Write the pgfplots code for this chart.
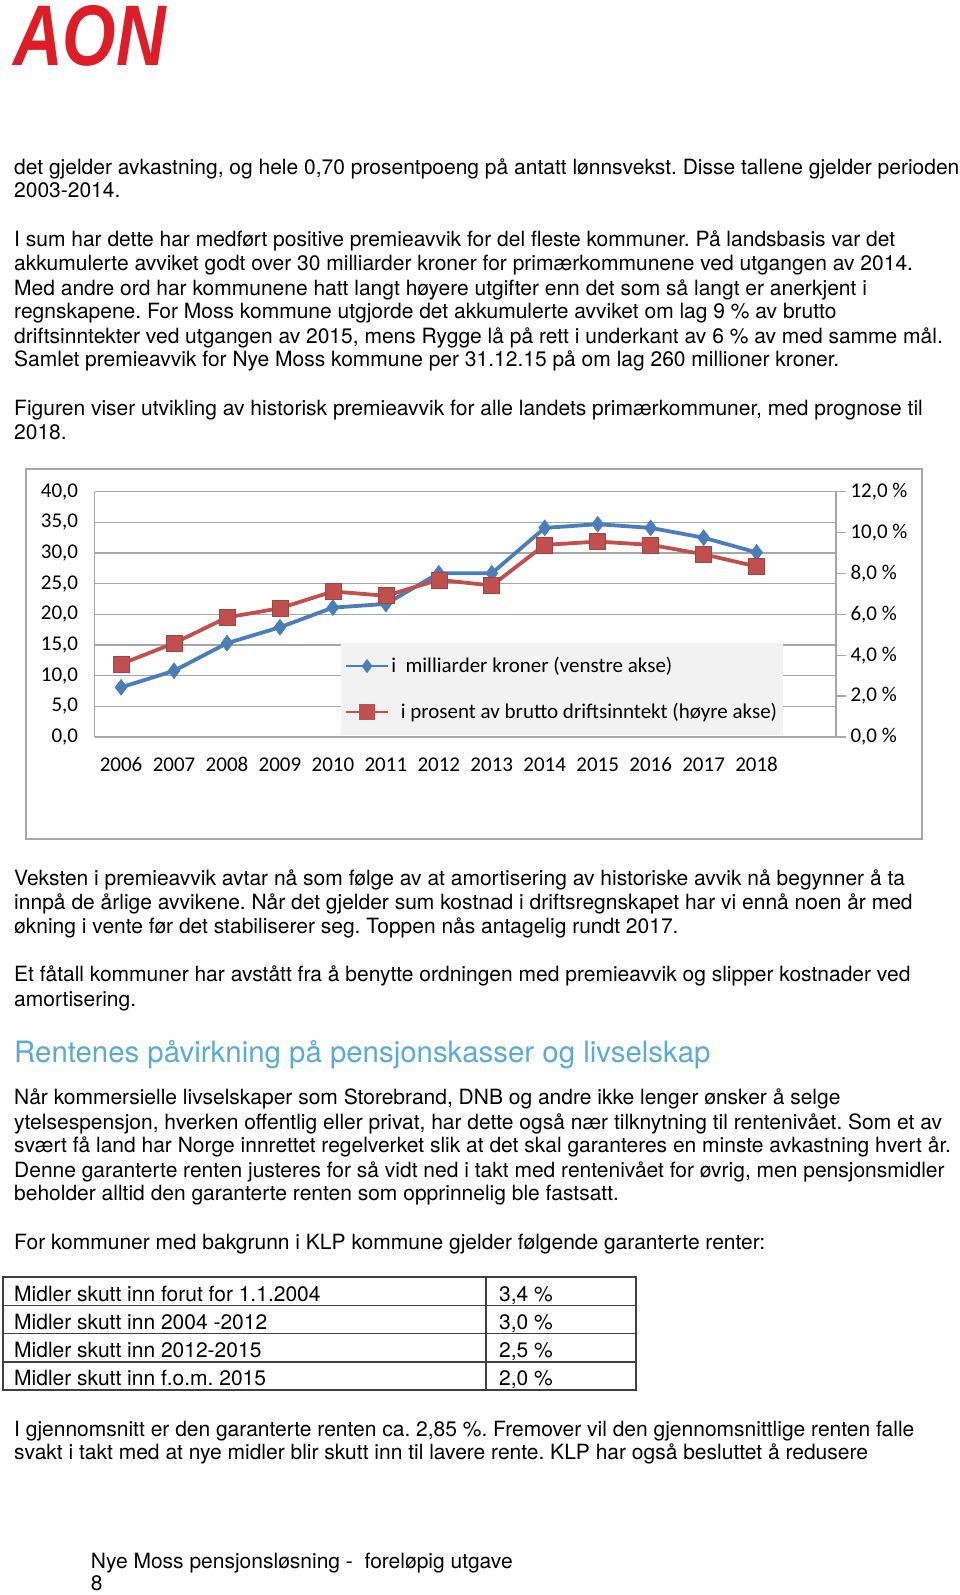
\documentclass[border=0pt]{standalone}
\usepackage{fontspec}
\setmainfont{TeX Gyre Heros}
\newfontfamily\carlito{Carlito}
\newfontfamily\liblogo{Liberation Sans}
\usepackage{pgfplots}
\pgfplotsset{compat=1.18}
\frenchspacing
\definecolor{serblue}{RGB}{74,126,187}
\definecolor{serred}{RGB}{192,80,77}
\definecolor{gridgray}{RGB}{166,166,166}
\definecolor{legfill}{RGB}{242,242,242}
\definecolor{headblue}{RGB}{91,170,214}
\definecolor{aonred}{RGB}{222,30,38}
\newcommand{\bodyfont}{\fontsize{21bp}{24bp}\selectfont}
\newcommand{\chartfont}{\fontsize{21bp}{24bp}\selectfont\carlito}
\newcommand{\tl}[2]{\node[anchor=base west,inner sep=0,font=\bodyfont] at (14bp,-#1bp) {#2};}
\begin{document}
\begin{tikzpicture}
\fill[white] (0,0) rectangle (960bp,-1595bp);
\path[use as bounding box] (0,0) rectangle (960bp,-1595bp);
% logo
\node[anchor=base west,inner sep=0,text=aonred,font=\fontsize{86bp}{86bp}\selectfont\liblogo\bfseries\itshape,xscale=0.8] at (13bp,-65bp) {AON};
% text
\tl{174.3}{det gjelder avkastning, og hele 0,70 prosentpoeng på antatt lønnsvekst. Disse tallene gjelder perioden}
\tl{197.7}{2003-2014.}
\tl{246.5}{I sum har dette har medført positive premieavvik for del fleste kommuner. På landsbasis var det}
\tl{270.9}{akkumulerte avviket godt over 30 milliarder kroner for primærkommunene ved utgangen av 2014.}
\tl{295.3}{Med andre ord har kommunene hatt langt høyere utgifter enn det som så langt er anerkjent i}
\tl{318.7}{regnskapene. For Moss kommune utgjorde det akkumulerte avviket om lag 9 \% av brutto}
\tl{343.1}{driftsinntekter ved utgangen av 2015, mens Rygge lå på rett i underkant av 6 \% av med samme mål.}
\tl{366.5}{Samlet premieavvik for Nye Moss kommune per 31.12.15 på om lag 260 millioner kroner.}
\tl{415.3}{Figuren viser utvikling av historisk premieavvik for alle landets primærkommuner, med prognose til}
\tl{439.7}{2018.}
\tl{885.1}{Veksten i premieavvik avtar nå som følge av at amortisering av historiske avvik nå begynner å ta}
\tl{909.5}{innpå de årlige avvikene. Når det gjelder sum kostnad i driftsregnskapet har vi ennå noen år med}
\tl{933.9}{økning i vente før det stabiliserer seg. Toppen nås antagelig rundt 2017.}
\tl{981.7}{Et fåtall kommuner har avstått fra å benytte ordningen med premieavvik og slipper kostnader ved}
\tl{1006.1}{amortisering.}
\node[anchor=base west,inner sep=0,text=headblue,font=\fontsize{29.4bp}{32bp}\selectfont] at (14bp,-1062bp) {Rentenes påvirkning på pensjonskasser og livselskap};
\tl{1104.8}{Når kommersielle livselskaper som Storebrand, DNB og andre ikke lenger ønsker å selge}
\tl{1129.2}{ytelsespensjon, hverken offentlig eller privat, har dette også nær tilknytning til rentenivået. Som et av}
\tl{1152.5}{svært få land har Norge innrettet regelverket slik at det skal garanteres en minste avkastning hvert år.}
\tl{1177}{Denne garanterte renten justeres for så vidt ned i takt med rentenivået for øvrig, men pensjonsmidler}
\tl{1200.4}{beholder alltid den garanterte renten som opprinnelig ble fastsatt.}
\tl{1249.2}{For kommuner med bakgrunn i KLP kommune gjelder følgende garanterte renter:}
% table
\draw[line width=1.5bp,black!75] (3bp,-1277bp) rectangle (636bp,-1390bp);
\draw[line width=1.5bp,black!75] (486bp,-1277bp) -- (486bp,-1390bp);
\foreach \yy in {1305.25,1333.5,1361.75} {\draw[line width=1.5bp,black!75] (3bp,-\yy bp) -- (636bp,-\yy bp);}
\tl{1301}{Midler skutt inn forut for 1.1.2004}
\tl{1329}{Midler skutt inn 2004 -2012}
\tl{1357}{Midler skutt inn 2012-2015}
\tl{1385}{Midler skutt inn f.o.m. 2015}
\node[anchor=base west,inner sep=0,font=\bodyfont] at (499bp,-1301bp) {3,4 \%};
\node[anchor=base west,inner sep=0,font=\bodyfont] at (499bp,-1329bp) {3,0 \%};
\node[anchor=base west,inner sep=0,font=\bodyfont] at (499bp,-1357bp) {2,5 \%};
\node[anchor=base west,inner sep=0,font=\bodyfont] at (499bp,-1385bp) {2,0 \%};
\tl{1436.3}{I gjennomsnitt er den garanterte renten ca. 2,85 \%. Fremover vil den gjennomsnittlige renten falle}
\tl{1459.7}{svakt i takt med at nye midler blir skutt inn til lavere rente. KLP har også besluttet å redusere}
\node[anchor=base west,inner sep=0,font=\bodyfont] at (90.7bp,-1568bp) {Nye Moss pensjonsløsning -\ \ foreløpig utgave};
\node[anchor=base west,inner sep=0,font=\bodyfont] at (90.7bp,-1590bp) {8};
% chart border
\draw[line width=2bp,gridgray] (26bp,-469bp) rectangle (922bp,-839bp);
% left axis
\begin{axis}[at={(94.6bp,-737bp)},anchor=south west,scale only axis,
  width=741.4bp,height=245.3bp,
  xmin=2005.5,xmax=2019.5,ymin=0,ymax=40,
  xtick={2006,2007,2008,2009,2010,2011,2012,2013,2014,2015,2016,2017,2018},
  xticklabels={2006,2007,2008,2009,2010,2011,2012,2013,2014,2015,2016,2017,2018},
  ytick={0,5,10,15,20,25,30,35,40},
  yticklabels={{0,0},{5,0},{10,0},{15,0},{20,0},{25,0},{30,0},{35,0},{40,0}},
  /pgf/number format/assume math mode=true,
  axis x line*=bottom, axis y line*=left,
  axis line style={draw=gridgray,line width=1.3bp,-},
  ymajorgrids, grid style={draw=gridgray,line width=1.3bp},
  major tick length=0pt,
  tick label style={font=\chartfont},
  xticklabel style={yshift=-17bp},
  yticklabel style={xshift=-13bp},
  clip=false]
\addplot[serblue,line width=3.8bp,mark=diamond*,mark size=8bp,mark options={solid,fill=serblue,draw=serblue,line width=0.5bp}]
 coordinates {(2006,8.1)(2007,10.8)(2008,15.3)(2009,17.9)(2010,21.1)(2011,21.7)(2012,26.7)(2013,26.7)(2014,34.1)(2015,34.7)(2016,34.1)(2017,32.5)(2018,30.1)};
\end{axis}
% right axis
\begin{axis}[at={(94.6bp,-737bp)},anchor=south west,scale only axis,
  width=741.4bp,height=245.3bp,
  xmin=2005.5,xmax=2019.5,ymin=0,ymax=12,
  axis x line=none, axis y line*=right,
  axis line style={draw=gridgray,line width=1.3bp,-},
  ytick={0,2,4,6,8,10,12},
  yticklabels={{0,0 \%},{2,0 \%},{4,0 \%},{6,0 \%},{8,0 \%},{10,0 \%},{12,0 \%}},
  /pgf/number format/assume math mode=true,
  tick align=outside, major tick length=10bp,
  major tick style={draw=gridgray,line width=1.3bp},
  tick label style={font=\chartfont},
  yticklabel style={anchor=west,xshift=1bp},
  legend image code/.code={\draw[mark repeat=2,mark phase=2,#1] plot coordinates {(0bp,0bp) (21bp,0bp) (42bp,0bp)};},
  legend cell align=left,
  legend style={at={(0.3317,0.006)},anchor=south west,fill=legfill,draw=none,
    font=\chartfont,inner xsep=4bp,inner ysep=13bp,row sep=25bp,
    nodes={inner sep=2bp}},
  clip=false]
\addlegendimage{serblue,line width=2.6bp,mark=diamond*,mark size=5bp,mark options={solid,fill=serblue}}
\addlegendentry{i\ \ milliarder kroner (venstre akse)}
\addlegendimage{serred,line width=2.6bp,mark=square*,mark size=6.5bp,mark options={solid,fill=serred}}
\addlegendentry{\ \ i prosent av brutto driftsinntekt (høyre akse)}
\addplot[serred,line width=3.8bp,mark=square*,mark size=8bp,mark options={solid,fill=serred,draw=serred!85!black,line width=0.6bp},forget plot]
 coordinates {(2006,3.57)(2007,4.59)(2008,5.85)(2009,6.30)(2010,7.12)(2011,6.91)(2012,7.69)(2013,7.41)(2014,9.40)(2015,9.56)(2016,9.40)(2017,8.94)(2018,8.34)};
\end{axis}
\end{tikzpicture}
\end{document}
